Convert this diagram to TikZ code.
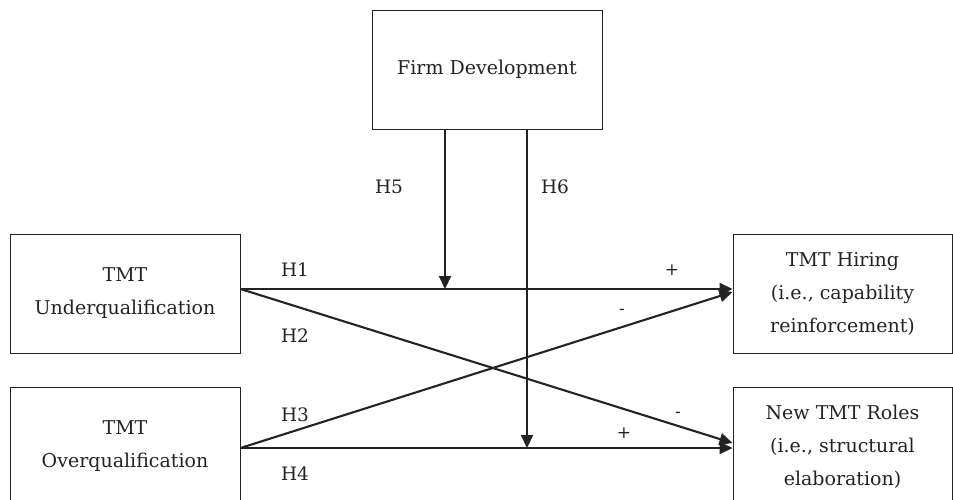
\documentclass[tikz,border=0pt]{standalone}
\usepackage{fontspec}
\setmainfont{DejaVu Serif}
\usetikzlibrary{arrows.meta,calc}
\definecolor{ink}{RGB}{35,35,35}
\begin{document}
\begin{tikzpicture}[x=1pt,y=-1pt,
  box/.style={draw=ink, line width=1pt, minimum width=230pt, minimum height=119pt, align=center, inner sep=0pt, text=ink, font=\fontsize{19}{33}\selectfont},
  conn/.style={draw=ink, line width=2.1pt, -{Triangle[length=13pt,width=12pt]}},
  lbl/.style={text=ink, font=\fontsize{18.5}{20}\selectfont, inner sep=0pt},
  sgn/.style={text=ink, font=\fontsize{17}{18}\selectfont, inner sep=0pt}]
\useasboundingbox (0,0) rectangle (953,499);
\clip (0,0) rectangle (953,499);
\node[box] (F) at (487,69.5) {Firm Development};
\node[box] (U) at (125,293.5) {TMT\\Underqualification};
\node[box] (O) at (125,446.5) {TMT\\Overqualification};
\node[box, minimum width=219pt] (Hi) at (842.5,293.5) {TMT Hiring\\(i.e., capability\\reinforcement)};
\node[box, minimum width=219pt] (R) at (842.5,446.5) {New TMT Roles\\(i.e., structural\\elaboration)};
\coordinate (m5) at (445,289);
\coordinate (m6) at (527,448);
\draw[conn] ([yshift=4.5pt]U.east) -- ([yshift=4.5pt]Hi.west);
\draw[conn] ([yshift=4.5pt]U.east) -- ([yshift=3.5pt]R.west);
\draw[conn] ([yshift=-1.5pt]O.east) -- ([yshift=1.5pt]Hi.west);
\draw[conn] ([yshift=-1.5pt]O.east) -- ([yshift=-1.5pt]R.west);
\draw[conn] (F.south -| m5) -- (m5);
\draw[conn] (F.south -| m6) -- (m6);
\node[lbl] (h1) at (295,270) {H1};
\node[lbl] (h2) at (295,336) {H2};
\node[lbl] (h3) at (295,415) {H3};
\node[lbl] (h4) at (295,474) {H4};
\node[lbl] (h5) at (389,187) {H5};
\node[lbl] (h6) at (555,187) {H6};
\node[sgn] (s1) at (672,270) {+};
\node[sgn] (s2) at (622,312) {-};
\node[sgn] (s3) at (678,415) {-};
\node[sgn] (s4) at (624,433) {+};
\end{tikzpicture}
\end{document}
